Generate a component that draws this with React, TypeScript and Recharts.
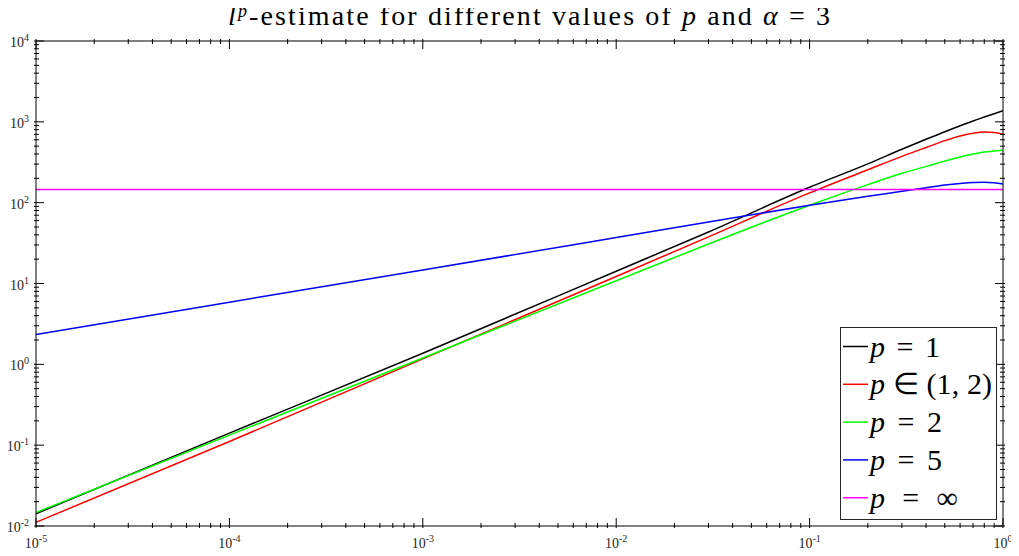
import React from 'react';
import { LineChart, Line, XAxis, YAxis, Legend } from 'recharts';

// sample points along x (log axis)
const xValues = [1e-5, 1e-4, 1e-3, 1e-2, 0.03, 0.1, 0.2, 0.3, 0.4, 0.5, 0.6, 0.7, 0.8, 0.9, 1];
const pOne = [0.0142, 0.141, 1.37, 14.2, 43.4, 155, 302, 458, 608, 755, 893, 1025, 1145, 1260, 1372];
const pBetween = [0.0111, 0.111, 1.17, 12.2, 37.8, 132, 255, 374, 482, 585, 668, 724, 748, 738, 700];
const pTwo = [0.0147, 0.133, 1.2, 10.8, 30.8, 93, 167, 231, 281, 327, 367, 399, 423, 435, 444];
const pFive = [2.34, 5.87, 14.7, 37.0, 57.5, 93, 120, 138, 152.5, 165, 173, 178, 179, 176, 170];
const pInf = [145, 145, 145, 145, 145, 145, 145, 145, 145, 145, 145, 145, 145, 145, 145];

const xDecades = [1e-5, 1e-4, 1e-3, 1e-2, 1e-1, 1];
const yDecades = [1e-2, 1e-1, 1, 10, 100, 1e3, 1e4];

const seriesKeys = ['p1', 'p12', 'p2', 'p5', 'pinf'];
const seriesColors = ['#000000', '#ff0000', '#00ff00', '#0000ff', '#ff00ff'];
const seriesLabels = ['= 1', '\u2208 (1, 2)', '= 2', '= 5', '= \u221e'];

const data = xValues.map((x, i) => ({
  x,
  p1: pOne[i],
  p12: pBetween[i],
  p2: pTwo[i],
  p5: pFive[i],
  pinf: pInf[i],
}));

// decades plus 2..9 minor ticks in between
const withMinor = (decades: number[]) =>
  decades.flatMap((d, i) =>
    i === decades.length - 1 ? [d] : [1, 2, 3, 4, 5, 6, 7, 8, 9].map((k) => k * d)
  );
const xTicks = withMinor(xDecades);
const yTicks = withMinor(yDecades);

const isMajor = (v: number) => Math.abs(Math.log10(v) - Math.round(Math.log10(v))) < 1e-6;
const expOf = (v: number) => String(Math.round(Math.log10(v)));

const FONT = 'Liberation Serif, serif';
const INK = '#262626';

const BottomTick = ({ x, y, payload }: any) => {
  const major = isMajor(payload.value);
  return (
    <g>
      <line x1={x} y1={y} x2={x} y2={y - (major ? 10 : 5)} stroke="#000" />
      {major && (
        <text x={x} y={y + 20} textAnchor="middle" fontFamily={FONT} fontSize={14} fill={INK}>
          10<tspan dy={-6} fontSize={10}>{expOf(payload.value)}</tspan>
        </text>
      )}
    </g>
  );
};

const TopTick = ({ x, y, payload }: any) => {
  const major = isMajor(payload.value);
  return <line x1={x} y1={y} x2={x} y2={y + (major ? 10 : 5)} stroke="#000" />;
};

const LeftTick = ({ x, y, payload }: any) => {
  const major = isMajor(payload.value);
  return (
    <g>
      <line x1={x} y1={y} x2={x + (major ? 10 : 5)} y2={y} stroke="#000" />
      {major && (
        <text x={x - 5} y={y + 6} textAnchor="end" fontFamily={FONT} fontSize={14} fill={INK}>
          10<tspan dy={-6} fontSize={10}>{expOf(payload.value)}</tspan>
        </text>
      )}
    </g>
  );
};

const RightTick = ({ x, y, payload }: any) => {
  const major = isMajor(payload.value);
  return <line x1={x} y1={y} x2={x - (major ? 10 : 5)} y2={y} stroke="#000" />;
};

const legendWidths = [70, 122, 72, 72, 88];

const LegendBox = () => (
  <svg width={157} height={193}>
    <rect x={0.5} y={0.5} width={156} height={192} fill="#fff" stroke={INK} />
    {seriesKeys.map((k, i) => {
      const cy = 19.5 + i * 37.8;
      return (
        <g key={k}>
          <line x1={3} y1={cy} x2={28} y2={cy} stroke={seriesColors[i]} strokeWidth={1.5} />
          <text
            x={30}
            y={cy + 10}
            fontFamily={FONT}
            fontSize={30}
            fill="#000"
            textLength={legendWidths[i]}
            lengthAdjust="spacing"
          >
            <tspan fontStyle="italic">p</tspan> {seriesLabels[i]}
          </text>
        </g>
      );
    })}
  </svg>
);

export default function App() {
  return (
    <div style={{ position: 'relative', width: 1011, height: 548 }}>
      <svg
        width={1019}
        height={36}
        style={{ position: 'absolute', left: -8, top: -8, pointerEvents: 'none', zIndex: 2 }}
      >
        <text x={529} y={25} textAnchor="middle" fontFamily={FONT} fontSize={28} fill="#000" textLength={602} lengthAdjust="spacing">
          <tspan fontStyle="italic">l</tspan>
          <tspan fontStyle="italic" fontSize={18} dy={-8}>p</tspan>
          <tspan dy={8}>-estimate for different values of </tspan>
          <tspan fontStyle="italic">p</tspan>
          <tspan> and </tspan>
          <tspan fontStyle="italic">{'\u03b1'}</tspan>
          <tspan> = 3</tspan>
        </text>
      </svg>
      <LineChart width={1011} height={548} data={data} margin={{ top: 32, right: 15, bottom: 29, left: 27 }}>
        <XAxis
          dataKey="x"
          type="number"
          scale="log"
          domain={[1e-5, 1]}
          allowDataOverflow
          ticks={xTicks}
          interval={0}
          height={1}
          tickSize={0}
          tickLine={false}
          axisLine={{ stroke: '#000' }}
          tick={(props: any) => <BottomTick {...props} />}
        />
        <XAxis
          xAxisId="top"
          orientation="top"
          dataKey="x"
          type="number"
          scale="log"
          domain={[1e-5, 1]}
          allowDataOverflow
          ticks={xTicks}
          interval={0}
          height={1}
          tickSize={0}
          tickLine={false}
          axisLine={{ stroke: '#000' }}
          tick={(props: any) => <TopTick {...props} />}
        />
        <YAxis
          type="number"
          scale="log"
          domain={[0.01, 10000]}
          allowDataOverflow
          ticks={yTicks}
          interval={0}
          width={1}
          tickSize={0}
          tickLine={false}
          axisLine={{ stroke: '#000' }}
          tick={(props: any) => <LeftTick {...props} />}
        />
        <YAxis
          yAxisId="right"
          orientation="right"
          type="number"
          scale="log"
          domain={[0.01, 10000]}
          allowDataOverflow
          ticks={yTicks}
          interval={0}
          width={1}
          tickSize={0}
          tickLine={false}
          axisLine={{ stroke: '#000' }}
          tick={(props: any) => <RightTick {...props} />}
        />
        {seriesKeys.map((k, i) => (
          <Line
            key={k}
            dataKey={k}
            type="monotone"
            stroke={seriesColors[i]}
            strokeWidth={1.5}
            dot={false}
            activeDot={false}
            isAnimationActive={false}
          />
        ))}
        <Legend
          layout="vertical"
          align="center"
          verticalAlign="middle"
          wrapperStyle={{ left: 832, top: 319, width: 157, height: 193 }}
          content={() => <LegendBox />}
        />
      </LineChart>
    </div>
  );
}
